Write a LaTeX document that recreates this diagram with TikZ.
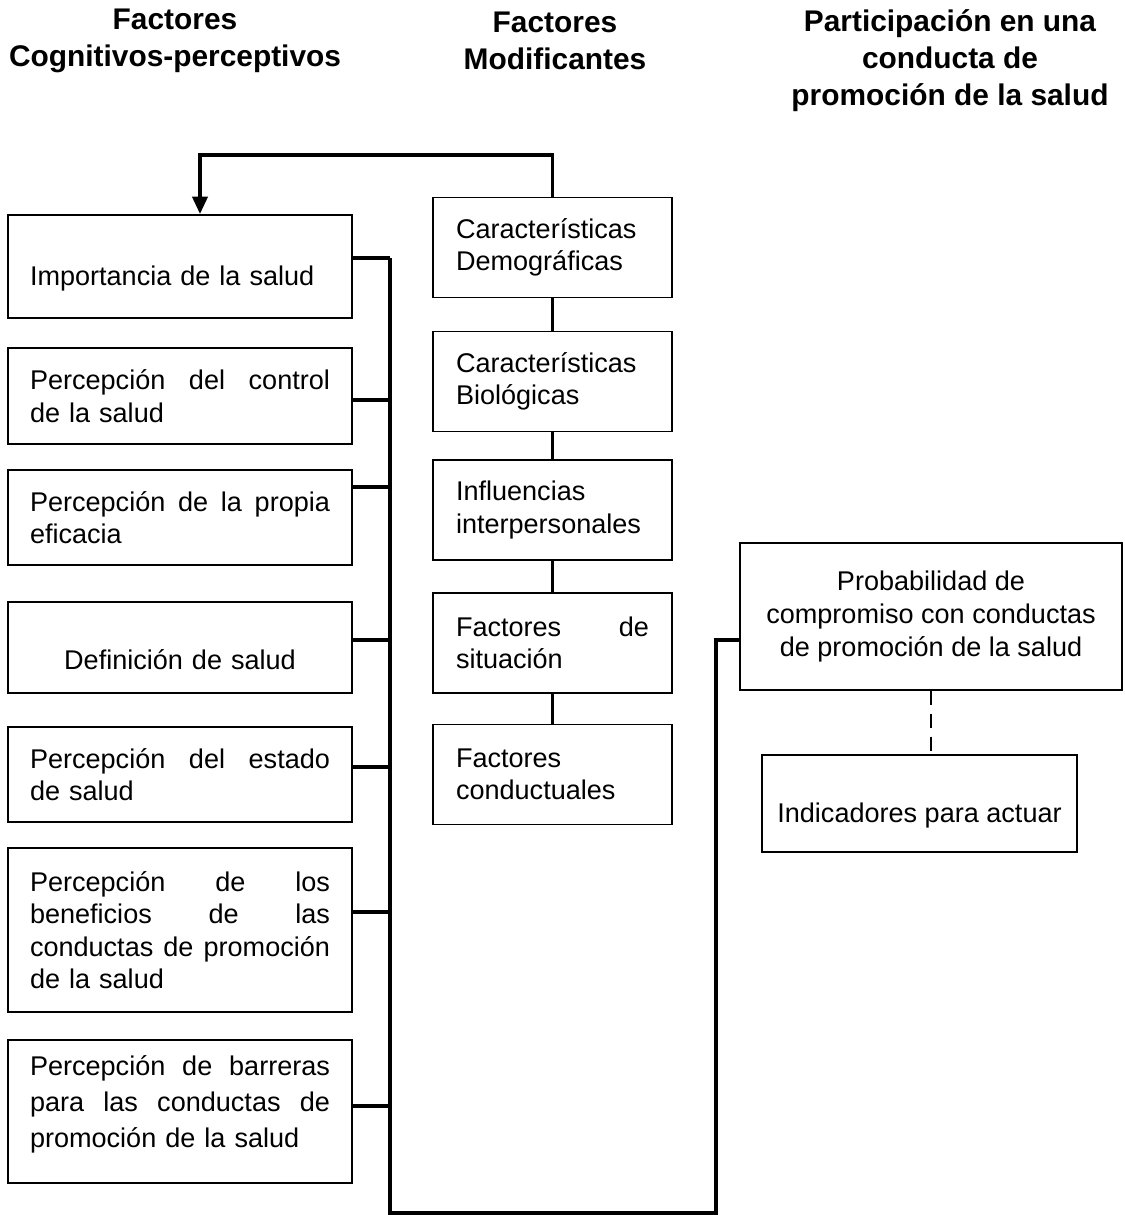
\documentclass[tikz,border=0pt]{standalone}
\usepackage{fontspec}
\setmainfont{Liberation Sans}
\usetikzlibrary{arrows.meta,positioning,calc}

\begin{document}
\begin{tikzpicture}[
    head/.style={align=center, font=\fontsize{17}{21}\selectfont\bfseries},
    factor/.style={draw, line width=1pt, minimum width=6.88cm,
                   text width=6cm, align=left,
                   font=\fontsize{15.4}{18.5}\selectfont},
    modif/.style={draw, line width=1pt, minimum width=4.78cm,
                  minimum height=2cm, text width=3.86cm, align=left,
                  font=\fontsize{15.4}{18.5}\selectfont},
    result/.style={draw, line width=1pt, align=center,
                   font=\fontsize{15.4}{19}\selectfont},
    link/.style={line width=2.2pt},
    arrow/.style={-{Triangle[length=3.5mm, width=3mm]}, line width=2.2pt},
    dashlink/.style={line width=1.6pt, dash pattern=on 8pt off 5pt},
  ]
  \useasboundingbox (0,0) rectangle (22.5,-24.3);

  % headings
  \node[head] (hcog) at (3.5,-0.82) {Factores\\Cognitivos-perceptivos};
  \node[head] (hmod) at (11.1,-0.82) {Factores\\Modificantes};
  \node[head] (hpar) at (19.0,-1.22) {Participación en una\\conducta de\\promoción de la salud};

  % cognitive-perceptual factors
  \node[factor, minimum height=2.06cm, text height=25pt] (imp) at (3.6,-5.33) {Importancia de la salud};
  \node[factor, minimum height=1.92cm] (con) at (3.6,-7.92)
    {Percepción\hfill del\hfill control\\de la salud};
  \node[factor, minimum height=1.9cm] (efi) at (3.6,-10.35)
    {Percepción\hfill de\hfill la\hfill propia\\eficacia};
  \node[factor, minimum height=1.82cm, align=center, text height=25pt] (def) at (3.6,-12.95) {Definición de salud};
  \node[factor, minimum height=1.9cm] (est) at (3.6,-15.49)
    {Percepción\hfill del\hfill estado\\de salud};
  \node[factor, minimum height=3.28cm] (ben) at (3.6,-18.6)
    {Percepción\hfill de\hfill los\\beneficios\hfill de\hfill las\\conductas\hfill de\hfill promoción\\de la salud};
  \node[factor, minimum height=2.86cm, text height=3pt,
        font=\fontsize{15.4}{20.5}\selectfont] (bar) at (3.6,-22.23)
    {Percepción\hfill de\hfill barreras\\para\hfill las\hfill conductas\hfill de\\promoción de la salud};

  % modifying factors
  \node[modif] (dem) at (11.05,-4.95) {Características\\Demográficas};
  \node[modif] (bio) at (11.05,-7.63) {Características\\Biológicas};
  \node[modif] (inf) at (11.05,-10.2) {Influencias\\interpersonales};
  \node[modif] (sit) at (11.05,-12.86) {Factores\hfill de\\situación};
  \node[modif] (cdt) at (11.05,-15.49) {Factores\\conductuales};

  % participation
  \node[result, minimum width=7.64cm, minimum height=2.94cm] (prob) at (18.62,-12.33)
    {Probabilidad de\\compromiso con conductas\\de promoción de la salud};
  \node[result, minimum width=6.3cm, minimum height=1.94cm, text height=25pt] (ind) at (18.39,-16.07)
    {Indicadores para actuar};

  \coordinate (turn) at (4.0,-3.1);
  \coordinate (bus) at (7.8,-24.26);
  \coordinate (ret) at (14.32,-24.26);

  \draw[arrow] (dem.north) |- (turn) -- (turn |- imp.north);

  \foreach \a/\b in {dem/bio, bio/inf, inf/sit, sit/cdt}
    \draw[link] (\a.south) -- (\b.north);

  \foreach \n/\s in {imp/0.17, con/-0.08, efi/0.61, def/0.15, est/0.15, ben/0.36, bar/0.11}
    \draw[link] ([yshift=\s cm]\n.east) -- ([yshift=\s cm]\n.east -| bus);

  \draw[link] ([yshift=0.17cm]imp.east -| bus) -- (bus) -- (ret)
    |- ([yshift=-0.47cm]prob.west);

  \draw[dashlink] (prob.south) -- (prob.south |- ind.north);
\end{tikzpicture}
\end{document}
